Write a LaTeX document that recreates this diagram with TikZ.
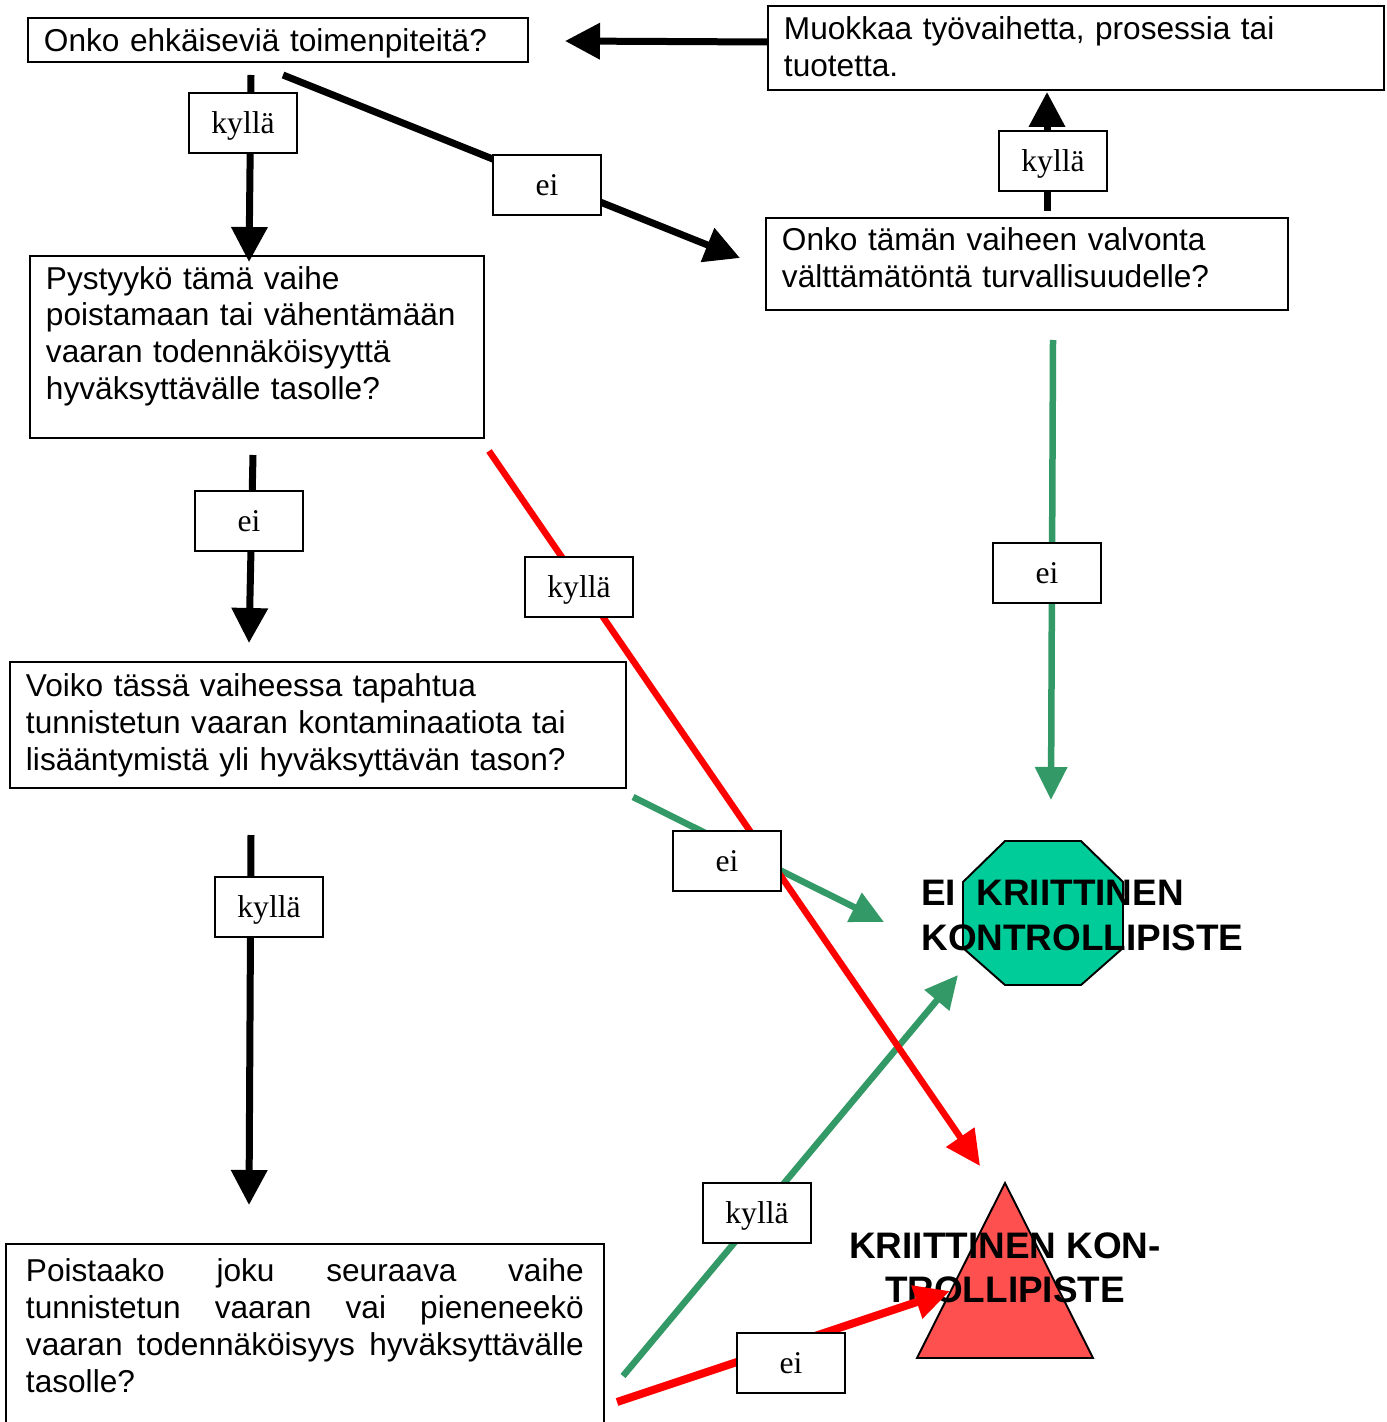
\documentclass[tikz,border=0pt]{standalone}
\usepackage{fontspec}
\setmainfont{Liberation Sans}
\newfontfamily\lblfont{Liberation Serif}
\usetikzlibrary{arrows.meta}
\definecolor{ccpgreen}{HTML}{339966}
\definecolor{octteal}{HTML}{00CC99}
\definecolor{trired}{HTML}{FF5050}

\begin{document}
\begin{tikzpicture}[x=0.02cm, y=-0.02cm,
    question/.style={draw, line width=1.1pt, anchor=north west, inner xsep=0.32cm, inner ysep=0pt, align=left, font=\fontsize{18pt}{21pt}\selectfont},
    answer/.style={draw, fill=white, line width=1.1pt, minimum width=2.16cm, minimum height=1.2cm, inner sep=0pt, text depth=0pt, font=\lblfont\fontsize{18pt}{21pt}\selectfont},
    blackarrow/.style={line width=0.14cm, -{Triangle[width=0.7cm,length=0.7cm]}},
    greenarrow/.style={ccpgreen, line width=0.13cm, -{Triangle[width=0.62cm,length=0.66cm]}},
    redarrow/.style={red, line width=0.13cm, -{Triangle[width=0.66cm,length=0.7cm]}},
    bigtext/.style={inner sep=0pt, font=\bfseries\fontsize{21pt}{25.5pt}\selectfont}]
    \useasboundingbox (0,0) rectangle (1386,1422);

    % Question boxes
    \node[question, text width=9.36cm, minimum height=0.88cm, text depth=0pt] (prevent) at (27,17) {Onko ehkäiseviä toimenpiteitä?};
    \node[question, text width=11.68cm, minimum height=1.68cm] (modify) at (767,5) {Muokkaa työvaihetta, prosessia tai\\ tuotetta.\\[-19pt]\mbox{}};
    \node[question, text width=8.44cm, minimum height=3.64cm] (reduce) at (29,255) {Pystyykö tämä vaihe\\ poistamaan tai vähentämään\\ vaaran todennäköisyyttä\\ hyväksyttävälle tasolle?\\[-5pt] \mbox{}};
    \node[question, text width=9.8cm, minimum height=1.84cm] (control) at (765,217) {Onko tämän vaiheen valvonta\\ välttämätöntä turvallisuudelle?\\[-14pt]\mbox{}};
    \node[question, text width=11.68cm, minimum height=2.52cm] (contam) at (9,661) {Voiko tässä vaiheessa tapahtua\\ tunnistetun vaaran kontaminaatiota tai\\ lisääntymistä yli hyväksyttävän tason?};
    \node[question, inner xsep=0.4cm, text width=11.16cm, minimum height=4cm, align=justify] (later) at (5,1243) {Poistaako joku seuraava vaihe\linebreak tunnistetun vaaran vai pieneneekö\linebreak vaaran todennäköisyys hyväksyttävälle\linebreak tasolle?\\ \mbox{}};

    % Not a CCP: octagon
    \filldraw[fill=octteal, draw=black, line width=1.1pt] (1005,841) -- (1081,841) -- (1123,882) -- (1123,948) -- (1081,985) -- (1005,985) -- (963,948) -- (963,882) -- cycle;
    \node[bigtext, anchor=north west, align=left] (noccp) at (921,880) {EI\ \ KRIITTINEN\\ KONTROLLIPISTE};

    % CCP: triangle
    \filldraw[fill=trired, draw=black, line width=1.1pt] (1005,1183) -- (1093,1358) -- (917,1358) -- cycle;
    \node[bigtext, anchor=north, align=center] (ccp) at (1005,1232) {KRIITTINEN KON-\\ TROLLIPISTE};

    % Connector ends
    \coordinate (prevent-yes) at (251,75);
    \coordinate (reduce-in) at (249,262);
    \coordinate (prevent-no) at (283,75);
    \coordinate (control-in) at (740,258);
    \coordinate (modify-out) at (767,42);
    \coordinate (prevent-in) at (565,41);
    \coordinate (control-yes) at (1047,211);
    \coordinate (modify-in) at (1047,92);
    \coordinate (reduce-no) at (253,455);
    \coordinate (contam-in) at (249,643);
    \coordinate (contam-yes) at (251,835);
    \coordinate (later-in) at (249,1205);
    \coordinate (reduce-yes) at (489,451);
    \coordinate (ccp-in) at (980,1166);
    \coordinate (control-no) at (1053,340);
    \coordinate (noccp-top) at (1051,800);
    \coordinate (contam-no) at (633,797);
    \coordinate (noccp-left) at (884,922);
    \coordinate (later-yes) at (623,1376);
    \coordinate (noccp-low) at (958,975);
    \coordinate (later-no) at (617,1402);
    \coordinate (ccp-left) at (950,1291);

    % Arrows
    \draw[blackarrow] (prevent-yes) -- (reduce-in);
    \draw[blackarrow] (prevent-no) -- (control-in);
    \draw[blackarrow] (modify-out) -- (prevent-in);
    \draw[blackarrow] (control-yes) -- (modify-in);
    \draw[blackarrow] (reduce-no) -- (contam-in);
    \draw[blackarrow] (contam-yes) -- (later-in);
    \draw[greenarrow] (control-no) -- (noccp-top);
    \draw[greenarrow] (contam-no) -- (noccp-left);
    \draw[greenarrow] (later-yes) -- (noccp-low);
    \draw[redarrow] (reduce-yes) -- (ccp-in);
    \draw[redarrow, line width=0.16cm] (later-no) -- (ccp-left);

    % Answer labels
    \node[answer] (ans1) at (243,123) {kyllä};
    \node[answer] (ans2) at (547,185) {ei};
    \node[answer] (ans3) at (1053,161) {kyllä};
    \node[answer] (ans4) at (249,521) {ei};
    \node[answer] (ans5) at (579,587) {kyllä};
    \node[answer] (ans6) at (1047,573) {ei};
    \node[answer] (ans7) at (727,861) {ei};
    \node[answer] (ans8) at (269,907) {kyllä};
    \node[answer] (ans9) at (757,1213) {kyllä};
    \node[answer] (ans10) at (791,1363) {ei};
\end{tikzpicture}
\end{document}
